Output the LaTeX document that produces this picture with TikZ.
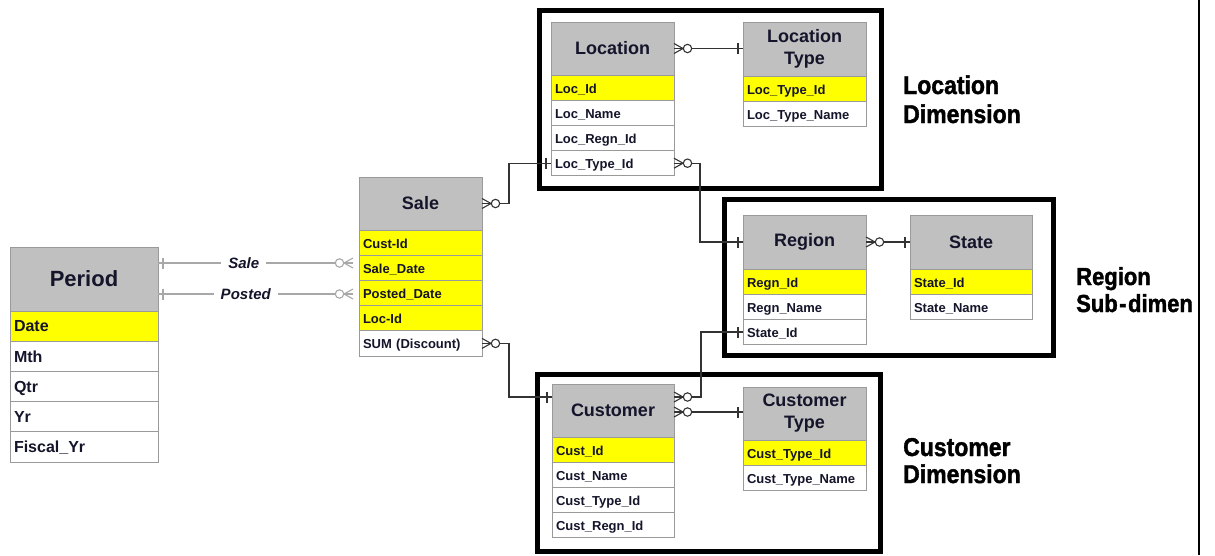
\documentclass[tikz,border=0pt]{standalone}
\usepackage{fontspec}
\setmainfont{Liberation Sans}
\newfontfamily\capfont[FakeBold=1.6]{Liberation Sans Bold}
\usetikzlibrary{calc}
\definecolor{hdrgray}{HTML}{C0C0C0}
\definecolor{keyyellow}{HTML}{FFFF00}
\definecolor{tblline}{HTML}{9A9A9A}
\definecolor{txt}{HTML}{14142A}
\definecolor{relline}{HTML}{333333}
\definecolor{softline}{HTML}{A8A8A8}
\newcommand{\captext}[1]{\scalebox{1}[1.12]{#1}}

\begin{document}
\begin{tikzpicture}[x=1pt,y=-1pt,
  hdr/.style={draw=tblline, line width=0.8pt, fill=hdrgray, anchor=north west,
    inner sep=0pt, outer sep=0pt, align=center, text=txt,
    minimum width=123pt, minimum height=53pt,
    font=\fontsize{18}{22}\selectfont\bfseries},
  fld/.style={draw=tblline, line width=0.8pt, anchor=north west, inner xsep=4pt,
    inner ysep=0pt, outer sep=0pt, align=left, text=txt,
    font=\fontsize{13}{15}\selectfont\bfseries,
    text height=13pt, text depth=2pt,
    minimum height=25.2pt, text width=115pt},
  keyfld/.style={fld, fill=keyyellow},
  attfld/.style={fld, fill=white},
  pkey/.style={keyfld, text width=140pt, minimum height=30.2pt,
    text height=14pt, text depth=2.5pt,
    font=\fontsize{16}{18}\selectfont\bfseries},
  patt/.style={attfld, text width=140pt, minimum height=30.2pt,
    text height=14pt, text depth=2.5pt,
    font=\fontsize{16}{18}\selectfont\bfseries},
  frame/.style={draw=black, line width=5pt},
  rel/.style={draw=relline, line width=1.2pt},
  soft/.style={draw=softline, line width=1.2pt},
  rlabel/.style={fill=white, inner xsep=7pt, inner ysep=1pt, text=txt,
    font=\fontsize{15}{17}\selectfont\bfseries\itshape},
  dimlbl/.style={anchor=base west, inner sep=0pt, text=black,
    font=\fontsize{23}{28}\selectfont\capfont},
  crow/.pic={
    \draw[line width=1.1pt] (0,-5) -- (9,0) -- (0,5);
    \draw[line width=1.1pt] (0,0) -- (9,0);
    \draw[line width=1.1pt, fill=white] (13.5,0) circle (4.2);
  },
  bar/.pic={
    \draw[line width=1.1pt] (5,-5.5) -- (5,5.5);
  }
]
\useasboundingbox (0,0) rectangle (1215,555);

% dimension frames
\draw[frame] (539,10) rectangle (881,188);
\draw[frame] (724,199) rectangle (1053,355);
\draw[frame] (537,374) rectangle (880,551);

% Period
\node[hdr, minimum width=148pt, minimum height=64pt,
  font=\fontsize{22}{26}\selectfont\bfseries] (per) at (10,247) {Period};
\node[pkey] (pdate) at (per.south west) {Date};
\node[patt] (pmth) at (pdate.south west) {Mth};
\node[patt] (pqtr) at (pmth.south west) {Qtr};
\node[patt] (pyr) at (pqtr.south west) {Yr};
\node[patt] (pfy) at (pyr.south west) {Fiscal\_Yr};

% Sale
\node[hdr] (sh) at (359,177) {Sale};
\node[keyfld] (scust) at (sh.south west) {Cust-Id};
\node[keyfld] (sdate) at (scust.south west) {Sale\_Date};
\node[keyfld] (spost) at (sdate.south west) {Posted\_Date};
\node[keyfld] (sloc) at (spost.south west) {Loc-Id};
\node[attfld] (ssum) at (sloc.south west) {SUM (Discount)};

% Location
\node[hdr] (loch) at (551,22) {Location};
\node[keyfld] (lid) at (loch.south west) {Loc\_Id};
\node[attfld] (lname) at (lid.south west) {Loc\_Name};
\node[attfld] (lregn) at (lname.south west) {Loc\_Regn\_Id};
\node[attfld] (ltid) at (lregn.south west) {Loc\_Type\_Id};

% Location Type
\node[hdr, minimum height=54pt] (lth) at (743,22) {Location\\Type};
\node[keyfld] (ltkey) at (lth.south west) {Loc\_Type\_Id};
\node[attfld] (ltname) at (ltkey.south west) {Loc\_Type\_Name};

% Region
\node[hdr, minimum height=54pt] (rg) at (743,215) {Region};
\node[keyfld] (rid) at (rg.south west) {Regn\_Id};
\node[attfld] (rname) at (rid.south west) {Regn\_Name};
\node[attfld] (rstid) at (rname.south west) {State\_Id};

% State
\node[hdr, minimum width=122pt, minimum height=54pt] (st) at (910,215) {State};
\node[keyfld, text width=114pt] (stid) at (st.south west) {State\_Id};
\node[attfld, text width=114pt] (stname) at (stid.south west) {State\_Name};

% Customer
\node[hdr, minimum width=122pt] (cu) at (552,384) {Customer};
\node[keyfld, text width=114pt] (cid) at (cu.south west) {Cust\_Id};
\node[attfld, text width=114pt] (cname) at (cid.south west) {Cust\_Name};
\node[attfld, text width=114pt] (ctid) at (cname.south west) {Cust\_Type\_Id};
\node[attfld, text width=114pt] (cregn) at (ctid.south west) {Cust\_Regn\_Id};

% Customer Type
\node[hdr] (ct) at (743,387) {Customer\\Type};
\node[keyfld] (ctkey) at (ct.south west) {Cust\_Type\_Id};
\node[attfld] (ctname) at (ctkey.south west) {Cust\_Type\_Name};

% Period to Sale (two roles)
\coordinate (psale) at ($(per.north east)+(0,16)$);
\coordinate (ppost) at ($(per.north east)+(0,47)$);
\coordinate (psaleend) at ($(psale -| sdate.west)+(-6,0)$);
\coordinate (ppostend) at ($(ppost -| spost.west)+(-6,0)$);
\draw[soft] (psale) -- node[rlabel, pos=0.44] (lsale) {Sale} (psaleend);
\draw[soft] (ppost) -- node[rlabel, pos=0.45] (lpost) {Posted} (ppostend);
\pic[color=softline] at (psale) {bar};
\pic[color=softline] at (ppost) {bar};
\pic[color=softline, rotate=180] at (psaleend) {crow};
\pic[color=softline, rotate=180] at (ppostend) {crow};

% Sale to Location
\draw[rel] (sh.east) -- ++(27,0) |- (ltid.west);
\pic[color=relline] at (sh.east) {crow};
\pic[color=relline, rotate=180] at (ltid.west) {bar};

% Sale to Customer
\coordinate (cin) at ($(cu.north west)+(0,13)$);
\draw[rel] (ssum.east) -- ++(27,0) |- (cin);
\pic[color=relline] at (ssum.east) {crow};
\pic[color=relline, rotate=180] at (cin) {bar};

% Location to Location Type
\coordinate (ltin) at (loch.east -| lth.west);
\draw[rel] (loch.east) -- (ltin);
\pic[color=relline] at (loch.east) {crow};
\pic[color=relline, rotate=180] at (ltin) {bar};

% Location to Region
\draw[rel] (ltid.east) -- ++(26,0) |- (rg.west);
\pic[color=relline] at (ltid.east) {crow};
\pic[color=relline, rotate=180] at (rg.west) {bar};

% Region to State
\draw[rel] (rg.east) -- (st.west);
\pic[color=relline] at (rg.east) {crow};
\pic[color=relline, rotate=180] at (st.west) {bar};

% Region to Customer
\coordinate (cout1) at ($(cu.north east)+(0,13)$);
\draw[rel] (rstid.west) -- ++(-42,0) |- (cout1);
\pic[color=relline, rotate=180] at (rstid.west) {bar};
\pic[color=relline] at (cout1) {crow};

% Customer to Customer Type
\coordinate (cout2) at ($(cu.north east)+(0,28)$);
\coordinate (ctin) at (cout2 -| ct.west);
\draw[rel] (cout2) -- (ctin);
\pic[color=relline] at (cout2) {crow};
\pic[color=relline, rotate=180] at (ctin) {bar};

% group captions
\node[dimlbl] (locl1) at (903,94) {\captext{Location}};
\node[dimlbl] (locl2) at (903,123) {\captext{Dimension}};
\node[dimlbl] (cusl1) at (903,456) {\captext{Customer}};
\node[dimlbl] (cusl2) at (903,483) {\captext{Dimension}};
\begin{scope}
  \clip (1000,240) rectangle (1199,340);
  \node[dimlbl, font=\fontsize{22}{27}\selectfont\capfont] (regl1) at (1076,285) {\captext{Region}};
  \node[dimlbl, font=\fontsize{22}{27}\selectfont\capfont] (regl2) at (1076,312) {\captext{Sub\kern1.5pt-\kern1.5pt dimen}};
\end{scope}

% page edge rule
\draw[line width=1.5pt] (1199,0) -- (1199,555);
\end{tikzpicture}
\end{document}
